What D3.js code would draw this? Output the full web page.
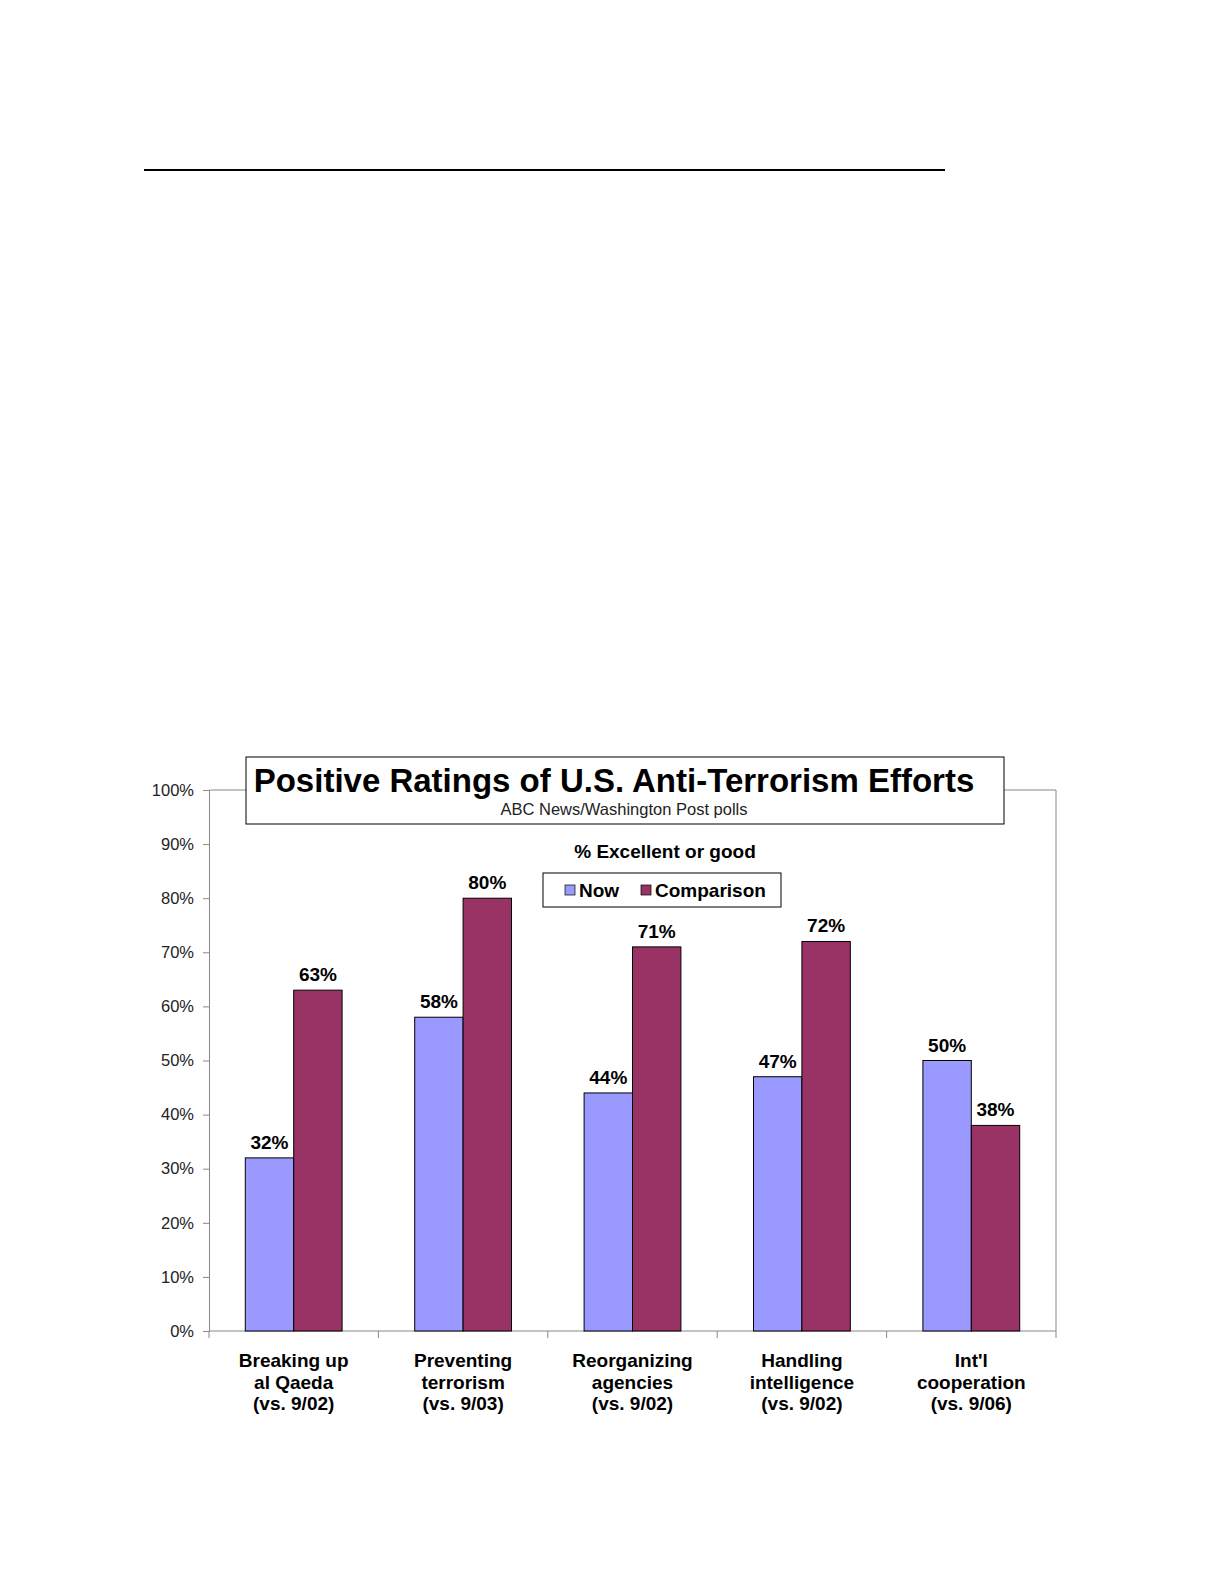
<!DOCTYPE html>
<html>
<head>
<meta charset="utf-8">
<script src="https://cdn.jsdelivr.net/npm/d3@7"></script>
<style>
  body { margin: 0; background: #fff; }
  svg { display: block; font-family: "Liberation Sans", Arial, sans-serif; }
</style>
</head>
<body>
<svg id="chart" width="1225" height="1585"></svg>
<script>
// data
var categories = [
    ["Breaking up", "al Qaeda", "(vs. 9/02)"],
    ["Preventing", "terrorism", "(vs. 9/03)"],
    ["Reorganizing", "agencies", "(vs. 9/02)"],
    ["Handling", "intelligence", "(vs. 9/02)"],
    ["Int'l", "cooperation", "(vs. 9/06)"]
];
var seriesNames = ["Now", "Comparison"];
var nowValues = [32, 58, 44, 47, 50];
var comparisonValues = [63, 80, 71, 72, 38];
var yTicks = [0, 10, 20, 30, 40, 50, 60, 70, 80, 90, 100];

var colors = ["#9999FF", "#993366"];

var svg = d3.select("#chart");

//Setup dimensions
var dims = { left: 209, right: 1056, top: 790, bottom: 1331 };

//Line at the top of the page
svg.append("line")
    .attr("x1", 144).attr("x2", 945)
    .attr("y1", 170).attr("y2", 170)
    .attr("stroke", "#000").attr("stroke-width", 2);

//Scales
var xScale = d3.scaleBand()
    .domain(d3.range(categories.length))
    .range([dims.left, dims.right]);

var yScale = d3.scaleLinear()
    .domain([0, 100])
    .range([dims.bottom, dims.top]);

var inner = d3.scaleBand()
    .domain(seriesNames)
    .range([0, xScale.bandwidth()])
    .paddingOuter(0.75)
    .paddingInner(0);

//Plot border (top and right)
svg.append("path")
    .attr("d", `M${dims.left},${dims.top}H${dims.right}V${dims.bottom}`)
    .attr("fill", "none")
    .attr("stroke", "#888").attr("stroke-width", 1);

//Y axis
var yAxis = svg.append("g")
    .attr("transform", `translate(${dims.left},0)`)
    .call(d3.axisLeft(yScale).tickValues(yTicks).tickSize(6).tickPadding(9)
        .tickFormat(d => d + "%"));
yAxis.select(".domain").attr("stroke", "#888");
yAxis.selectAll(".tick line").attr("stroke", "#888");
yAxis.selectAll("text")
    .attr("font-size", 16.5).attr("fill", "#222")
    .attr("font-family", "Liberation Sans, Arial, sans-serif");

//X axis with ticks at category boundaries
var xAxis = svg.append("g")
    .attr("transform", `translate(0,${dims.bottom})`);
xAxis.append("line")
    .attr("x1", dims.left).attr("x2", dims.right)
    .attr("stroke", "#888");
xAxis.selectAll(".sep")
    .data(d3.range(categories.length + 1))
    .enter().append("line")
    .attr("x1", i => i < categories.length ? xScale(i) : dims.right)
    .attr("x2", i => i < categories.length ? xScale(i) : dims.right)
    .attr("y1", 0).attr("y2", 7)
    .attr("stroke", "#888");

//Category labels
var catLabels = svg.append("g")
    .selectAll("text")
    .data(categories)
    .enter().append("text")
    .attr("text-anchor", "middle")
    .attr("font-size", 19).attr("font-weight", "bold").attr("fill", "#000");
catLabels.each(function(lines, i) {
    var t = d3.select(this);
    lines.forEach((ln, j) => {
        t.append("tspan")
            .attr("x", xScale(i) + xScale.bandwidth() / 2)
            .attr("y", 1367 + j * 21.5)
            .text(ln);
    });
});

//Bars
var groups = svg.append("g")
    .selectAll("g")
    .data(categories.map((c, i) => [nowValues[i], comparisonValues[i]]))
    .enter().append("g")
    .attr("transform", (d, i) => `translate(${xScale(i)},0)`);

groups.selectAll("rect")
    .data(d => d.map((v, k) => ({ v: v, k: k })))
    .enter().append("rect")
    .attr("x", d => inner(seriesNames[d.k]))
    .attr("width", inner.bandwidth())
    .attr("y", d => yScale(d.v))
    .attr("height", d => yScale(0) - yScale(d.v))
    .attr("fill", d => colors[d.k])
    .attr("stroke", "#000").attr("stroke-width", 1);

groups.selectAll(".val")
    .data(d => d.map((v, k) => ({ v: v, k: k })))
    .enter().append("text")
    .attr("x", d => inner(seriesNames[d.k]) + inner.bandwidth() / 2)
    .attr("y", d => yScale(d.v) - 9)
    .attr("text-anchor", "middle")
    .attr("font-size", 19).attr("font-weight", "bold")
    .text(d => d.v + "%");

//Title box
svg.append("rect")
    .attr("x", 246).attr("y", 757)
    .attr("width", 758).attr("height", 67)
    .attr("fill", "#fff").attr("stroke", "#000").attr("stroke-width", 1);
svg.append("text")
    .attr("x", 614).attr("y", 792)
    .attr("text-anchor", "middle")
    .attr("font-size", 33)
    .attr("font-weight", "bold")
    .text("Positive Ratings of U.S. Anti-Terrorism Efforts");
svg.append("text")
    .attr("x", 624).attr("y", 815)
    .attr("text-anchor", "middle")
    .attr("font-size", 16.5).attr("fill", "#222")
    .text("ABC News/Washington Post polls");

svg.append("text")
    .attr("x", 665).attr("y", 858)
    .attr("text-anchor", "middle")
    .attr("font-size", 19).attr("font-weight", "bold")
    .text("% Excellent or good");

//Legend
var legend = svg.append("g");
legend.append("rect")
    .attr("x", 543).attr("y", 873)
    .attr("width", 238).attr("height", 34)
    .attr("fill", "#fff").attr("stroke", "#000");
var legX = [565, 641];
seriesNames.forEach((name, k) => {
    legend.append("rect")
        .attr("x", legX[k]).attr("y", 885)
        .attr("width", 10).attr("height", 10)
        .attr("fill", colors[k]).attr("stroke", "#000").attr("stroke-width", 0.7);
    legend.append("text")
        .attr("x", legX[k] + 14).attr("y", 897)
        .attr("font-size", 19).attr("font-weight", "bold")
        .text(name);
});
</script>
</body>
</html>
